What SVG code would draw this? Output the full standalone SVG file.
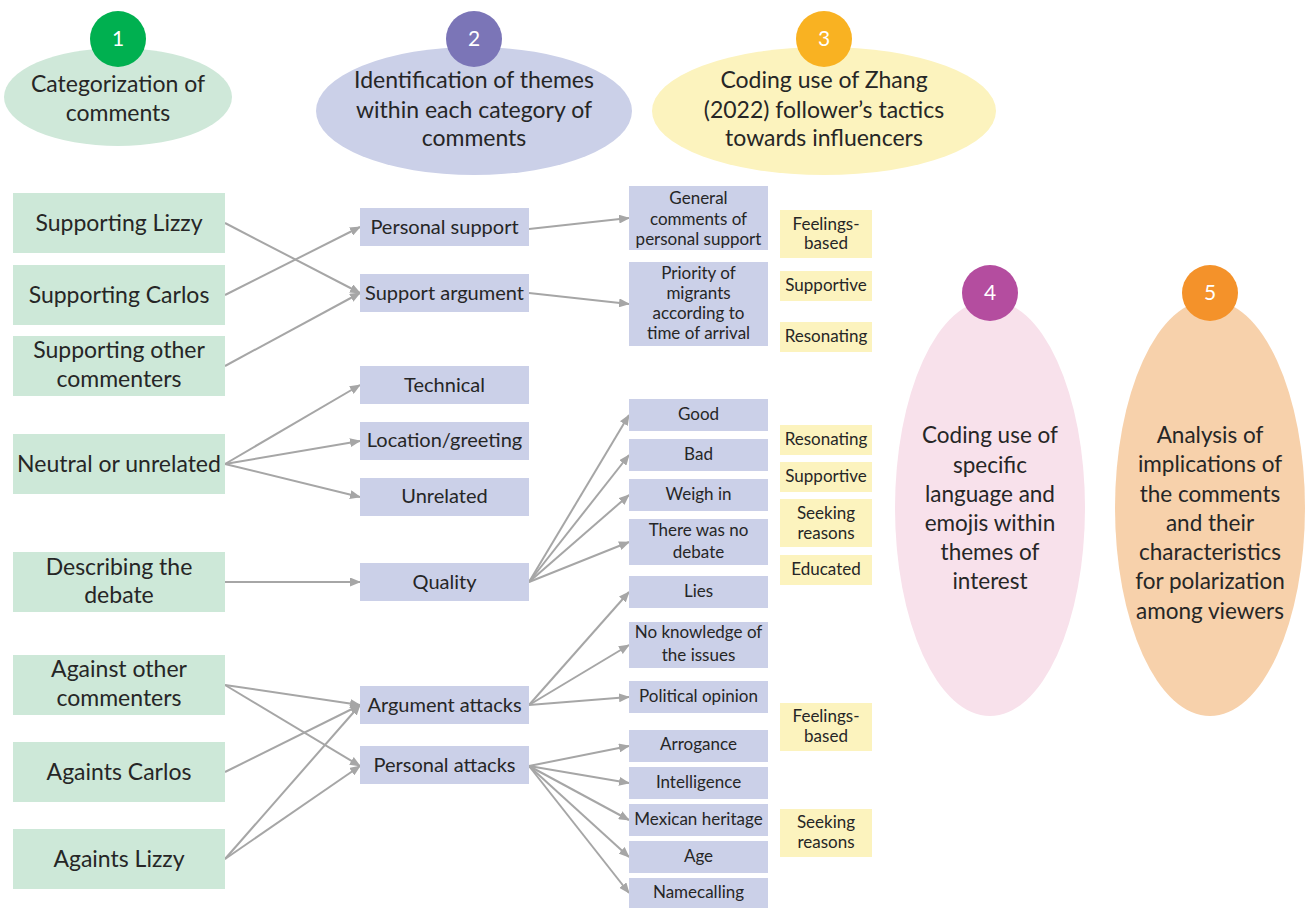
<svg xmlns="http://www.w3.org/2000/svg" width="1306" height="908" viewBox="0 0 1306 908">
<defs>
<marker id="arr" markerWidth="11" markerHeight="9" refX="10" refY="4.5" orient="auto" markerUnits="userSpaceOnUse">
<path d="M0,0 L11,4.5 L0,9 z" fill="#A6A6A6"/>
</marker>
<style>
text{font-family:Lato,"Open Sans","Liberation Sans",sans-serif;fill:#262626;text-anchor:middle}
.g{fill:#CDE8D8}
.b{fill:#CBD0E8}
.y{fill:#FCF3BE}
.tg{font-size:23px}
.tm{font-size:20px}
.tr{font-size:17px}
.th{font-size:23px}
.tv{font-size:22.5px}
.num{font-size:21px;fill:#FFFFFF}
.c line{stroke:#A6A6A6;stroke-width:2;marker-end:url(#arr)}
</style>
</defs>
<rect width="1306" height="908" fill="#FFFFFF"/>

<!-- headers -->
<g id="step1">
<ellipse cx="118" cy="97" rx="114" ry="49" fill="#CFE8D9"/>
<circle cx="118" cy="39" r="28" fill="#00B050"/>
<text class="num" x="118" y="46">1</text>
<text class="th" x="118" y="92">Categorization of</text>
<text class="th" x="118" y="121">comments</text>
</g>
<g id="step2">
<ellipse cx="474" cy="111" rx="158" ry="64" fill="#CBD0E8"/>
<circle cx="474" cy="39" r="28" fill="#7B75B7"/>
<text class="num" x="474" y="46">2</text>
<text class="th" x="474" y="88">Identification of themes</text>
<text class="th" x="474" y="118">within each category of</text>
<text class="th" x="474" y="146">comments</text>
</g>
<g id="step3">
<ellipse cx="824" cy="111" rx="172" ry="64" fill="#FCF3BE"/>
<circle cx="824" cy="39" r="28" fill="#F9B222"/>
<text class="num" x="824" y="46">3</text>
<text class="th" x="824" y="88">Coding use of Zhang</text>
<text class="th" x="824" y="118">(2022) follower’s tactics</text>
<text class="th" x="824" y="146">towards influencers</text>
</g>
<g id="step4">
<ellipse cx="990" cy="508" rx="95" ry="208" fill="#F8E1EB"/>
<circle cx="990" cy="293" r="28" fill="#B44D9F"/>
<text class="num" x="990" y="300">4</text>
<text class="tv" x="990" y="443">Coding use of</text>
<text class="tv" x="990" y="473">specific</text>
<text class="tv" x="990" y="502">language and</text>
<text class="tv" x="990" y="531">emojis within</text>
<text class="tv" x="990" y="560">themes of</text>
<text class="tv" x="990" y="589">interest</text>
</g>
<g id="step5">
<ellipse cx="1210" cy="508" rx="95" ry="208" fill="#F7D1AB"/>
<circle cx="1210" cy="293" r="28" fill="#F4922A"/>
<text class="num" x="1210" y="300">5</text>
<text class="tv" x="1210" y="443">Analysis of</text>
<text class="tv" x="1210" y="472">implications of</text>
<text class="tv" x="1210" y="502">the comments</text>
<text class="tv" x="1210" y="531">and their</text>
<text class="tv" x="1210" y="560">characteristics</text>
<text class="tv" x="1210" y="589">for polarization</text>
<text class="tv" x="1210" y="619">among viewers</text>
</g>

<!-- connectors -->
<g id="connectors" class="c">
<line x1="225" y1="223" x2="360" y2="293"/>
<line x1="225" y1="295" x2="360" y2="227"/>
<line x1="225" y1="366" x2="360" y2="293"/>
<line x1="225" y1="464" x2="360" y2="385"/>
<line x1="225" y1="464" x2="360" y2="441"/>
<line x1="225" y1="464" x2="360" y2="497"/>
<line x1="225" y1="582" x2="360" y2="582"/>
<line x1="225" y1="685" x2="360" y2="705"/>
<line x1="225" y1="685" x2="360" y2="766"/>
<line x1="225" y1="772" x2="360" y2="705"/>
<line x1="225" y1="859" x2="360" y2="705"/>
<line x1="225" y1="859" x2="360" y2="766"/>
<line x1="529" y1="229" x2="629" y2="218"/>
<line x1="529" y1="293" x2="629" y2="304"/>
<line x1="529" y1="582" x2="629" y2="415"/>
<line x1="529" y1="582" x2="629" y2="455"/>
<line x1="529" y1="582" x2="629" y2="495"/>
<line x1="529" y1="582" x2="629" y2="542"/>
<line x1="529" y1="705" x2="629" y2="592"/>
<line x1="529" y1="705" x2="629" y2="645"/>
<line x1="529" y1="705" x2="629" y2="697"/>
<line x1="529" y1="766" x2="629" y2="746"/>
<line x1="529" y1="766" x2="629" y2="783"/>
<line x1="529" y1="766" x2="629" y2="820"/>
<line x1="529" y1="766" x2="629" y2="857"/>
<line x1="529" y1="766" x2="629" y2="893"/>
</g>

<!-- category boxes -->
<g id="cat-supporting-lizzy"><rect class="g" x="13" y="193" width="212" height="60"/><text class="tg" x="119" y="231">Supporting Lizzy</text></g>
<g id="cat-supporting-carlos"><rect class="g" x="13" y="265" width="212" height="60"/><text class="tg" x="119" y="303">Supporting Carlos</text></g>
<g id="cat-supporting-other"><rect class="g" x="13" y="336" width="212" height="60"/><text class="tg" x="119" y="358">Supporting other</text><text class="tg" x="119" y="387">commenters</text></g>
<g id="cat-neutral"><rect class="g" x="13" y="434" width="212" height="60"/><text class="tg" x="119" y="472">Neutral or unrelated</text></g>
<g id="cat-describing"><rect class="g" x="13" y="552" width="212" height="60"/><text class="tg" x="119" y="575">Describing the</text><text class="tg" x="119" y="603">debate</text></g>
<g id="cat-against-other"><rect class="g" x="13" y="655" width="212" height="60"/><text class="tg" x="119" y="677">Against other</text><text class="tg" x="119" y="706">commenters</text></g>
<g id="cat-against-carlos"><rect class="g" x="13" y="742" width="212" height="60"/><text class="tg" x="119" y="780">Againts Carlos</text></g>
<g id="cat-against-lizzy"><rect class="g" x="13" y="829" width="212" height="60"/><text class="tg" x="119" y="867">Againts Lizzy</text></g>

<!-- theme boxes -->
<g id="th-personal-support"><rect class="b" x="360" y="208" width="169" height="38"/><text class="tm" x="444.5" y="234">Personal support</text></g>
<g id="th-support-argument"><rect class="b" x="360" y="274" width="169" height="38"/><text class="tm" x="444.5" y="300">Support argument</text></g>
<g id="th-technical"><rect class="b" x="360" y="366" width="169" height="38"/><text class="tm" x="444.5" y="392">Technical</text></g>
<g id="th-location"><rect class="b" x="360" y="422" width="169" height="38"/><text class="tm" x="444.5" y="447">Location/greeting</text></g>
<g id="th-unrelated"><rect class="b" x="360" y="478" width="169" height="38"/><text class="tm" x="444.5" y="503">Unrelated</text></g>
<g id="th-quality"><rect class="b" x="360" y="563" width="169" height="38"/><text class="tm" x="444.5" y="589">Quality</text></g>
<g id="th-argument-attacks"><rect class="b" x="360" y="686" width="169" height="38"/><text class="tm" x="444.5" y="712">Argument attacks</text></g>
<g id="th-personal-attacks"><rect class="b" x="360" y="746" width="169" height="38"/><text class="tm" x="444.5" y="772">Personal attacks</text></g>

<!-- sub-theme boxes -->
<g id="st-general"><rect class="b" x="629" y="186" width="139" height="64"/><text class="tr" x="698.5" y="204">General</text><text class="tr" x="698.5" y="225">comments of</text><text class="tr" x="698.5" y="245">personal support</text></g>
<g id="st-priority"><rect class="b" x="629" y="262" width="139" height="84"/><text class="tr" x="698.5" y="279">Priority of</text><text class="tr" x="698.5" y="299">migrants</text><text class="tr" x="698.5" y="319">according to</text><text class="tr" x="698.5" y="339">time of arrival</text></g>
<g id="st-good"><rect class="b" x="629" y="399" width="139" height="32"/><text class="tr" x="698.5" y="420">Good</text></g>
<g id="st-bad"><rect class="b" x="629" y="439" width="139" height="32"/><text class="tr" x="698.5" y="460">Bad</text></g>
<g id="st-weigh"><rect class="b" x="629" y="479" width="139" height="32"/><text class="tr" x="698.5" y="500">Weigh in</text></g>
<g id="st-nodebate"><rect class="b" x="629" y="519" width="139" height="46"/><text class="tr" x="698.5" y="536">There was no</text><text class="tr" x="698.5" y="558">debate</text></g>
<g id="st-lies"><rect class="b" x="629" y="576" width="139" height="32"/><text class="tr" x="698.5" y="597">Lies</text></g>
<g id="st-noknowledge"><rect class="b" x="629" y="622" width="139" height="46"/><text class="tr" x="698.5" y="638">No knowledge of</text><text class="tr" x="698.5" y="661">the issues</text></g>
<g id="st-political"><rect class="b" x="629" y="681" width="139" height="32"/><text class="tr" x="698.5" y="702">Political opinion</text></g>
<g id="st-arrogance"><rect class="b" x="629" y="730" width="139" height="32"/><text class="tr" x="698.5" y="750">Arrogance</text></g>
<g id="st-intelligence"><rect class="b" x="629" y="767" width="139" height="32"/><text class="tr" x="698.5" y="788">Intelligence</text></g>
<g id="st-mexican"><rect class="b" x="629" y="804" width="139" height="32"/><text class="tr" x="698.5" y="825">Mexican heritage</text></g>
<g id="st-age"><rect class="b" x="629" y="841" width="139" height="32"/><text class="tr" x="698.5" y="862">Age</text></g>
<g id="st-namecalling"><rect class="b" x="629" y="878" width="139" height="30"/><text class="tr" x="698.5" y="898">Namecalling</text></g>

<!-- tactic boxes -->
<g id="tc-feelings1"><rect class="y" x="780" y="210" width="92" height="48"/><text class="tr" x="826" y="230">Feelings-</text><text class="tr" x="826" y="249">based</text></g>
<g id="tc-supportive1"><rect class="y" x="780" y="271" width="92" height="30"/><text class="tr" x="826" y="291">Supportive</text></g>
<g id="tc-resonating1"><rect class="y" x="780" y="322" width="92" height="30"/><text class="tr" x="826" y="342">Resonating</text></g>
<g id="tc-resonating2"><rect class="y" x="780" y="425" width="92" height="30"/><text class="tr" x="826" y="445">Resonating</text></g>
<g id="tc-supportive2"><rect class="y" x="780" y="462" width="92" height="30"/><text class="tr" x="826" y="482">Supportive</text></g>
<g id="tc-seeking1"><rect class="y" x="780" y="499" width="92" height="48"/><text class="tr" x="826" y="519">Seeking</text><text class="tr" x="826" y="539">reasons</text></g>
<g id="tc-educated"><rect class="y" x="780" y="555" width="92" height="30"/><text class="tr" x="826" y="575">Educated</text></g>
<g id="tc-feelings2"><rect class="y" x="780" y="703" width="92" height="48"/><text class="tr" x="826" y="722">Feelings-</text><text class="tr" x="826" y="742">based</text></g>
<g id="tc-seeking2"><rect class="y" x="780" y="809" width="92" height="48"/><text class="tr" x="826" y="828">Seeking</text><text class="tr" x="826" y="848">reasons</text></g>
</svg>
